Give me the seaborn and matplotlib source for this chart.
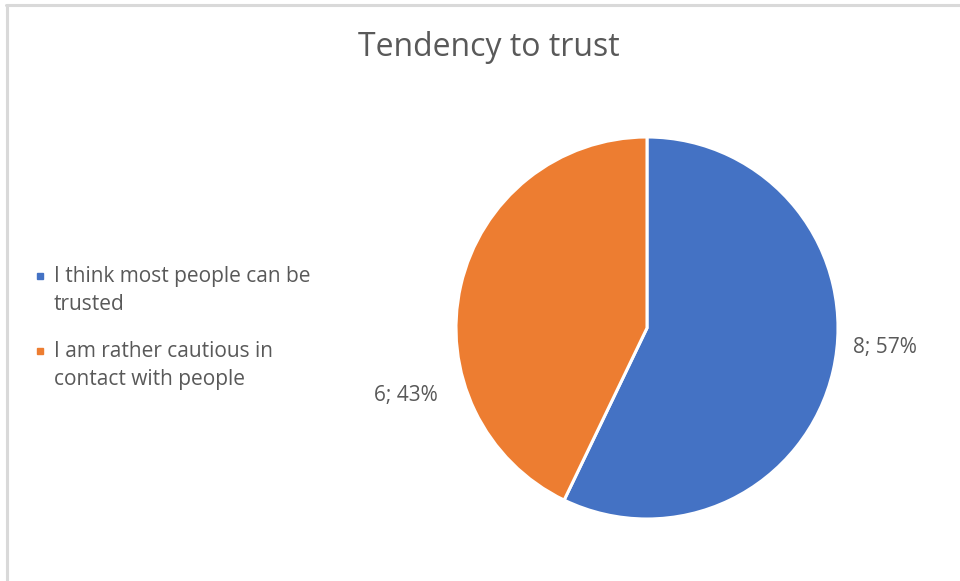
import textwrap
import numpy as np
import matplotlib
matplotlib.use("Agg")
import matplotlib.pyplot as plt
from matplotlib.lines import Line2D
import seaborn as sns

# Survey answers
categories = ["I think most people can be trusted",
              "I am rather cautious in contact with people"]
counts = [8, 6]
colors = ["#4472C4", "#ED7D31"]
title = "Tendency to trust"

sns.set_theme(style="white")
plt.rcParams["font.family"] = ["Open Sans", "DejaVu Sans"]
text_gray = "#595959"

W, H = 960, 581
fig = plt.figure(figsize=(W / 100, H / 100), dpi=100)
fig.patch.set_facecolor("white")


def fx(px):
    return px / W


def fy(py):
    return 1 - py / H


# chart frame (top and left edges visible)
fig.add_artist(Line2D([fx(6), 1], [fy(5), fy(5)], color="#d9d9d9", lw=2.2,
                      transform=fig.transFigure))
fig.add_artist(Line2D([fx(6.5), fx(6.5)], [0, fy(5)], color="#d9d9d9", lw=2.2,
                      transform=fig.transFigure))

fig.text(fx(489), fy(48), title, ha="center", va="center",
         fontsize=23, color=text_gray)

# pie plot area
cx, cy, r = 647, 328, 191
ax = fig.add_axes([fx(cx - r), fy(cy + r), 2 * r / W, 2 * r / H])
wedges, _ = ax.pie(counts, colors=colors, startangle=90, counterclock=False,
                   radius=1.0,
                   wedgeprops=dict(edgecolor="white", linewidth=2.2))
ax.set_xlim(-1, 1)
ax.set_ylim(-1, 1)
ax.set_aspect("auto")
ax.axis("off")

# data labels: "count; percent", placed outside each slice
total = sum(counts)
label_pos = [(-4.8, 1.25), (195.7, 1.31)]  # (angle in degrees, radius factor)
for v, (ang, rf) in zip(counts, label_pos):
    a = np.deg2rad(ang)
    ax.text(rf * np.cos(a), rf * np.sin(a), f"{v}; {v / total:.0%}",
            ha="center", va="center", fontsize=15, color=text_gray,
            clip_on=False)

# legend on the left: square swatch beside the first line of each entry
legend_first_line = [276, 351]  # pixel rows of each entry's first line
for cat, c, y in zip(categories, colors, legend_first_line):
    fig.add_artist(Line2D([fx(40)], [fy(y)], marker="s", markersize=5,
                          linestyle="none", markerfacecolor=c,
                          markeredgecolor=c, transform=fig.transFigure))
    fig.text(fx(54), fy(y - 10), textwrap.fill(cat, 27), ha="left", va="top",
             fontsize=15, color=text_gray, linespacing=1.42)

fig.savefig("out.png", dpi=100, facecolor="white")
